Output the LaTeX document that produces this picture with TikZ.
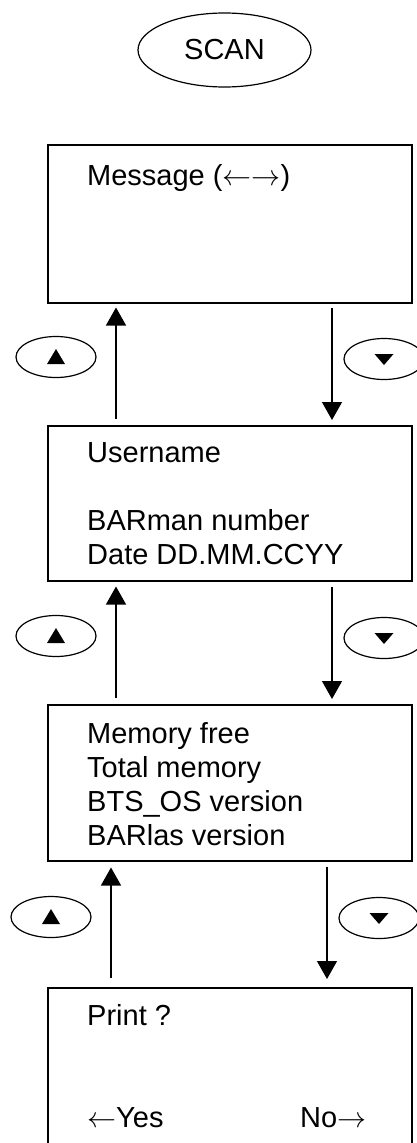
\RequirePackage{fix-cm}
\documentclass[tikz,border=0pt]{standalone}
\usepackage{fontspec}
\setmainfont{Liberation Sans}
\usetikzlibrary{arrows.meta,shapes.geometric}

\tikzset{
  screen/.style={draw, line width=1.5pt, anchor=north west, inner sep=0pt, minimum width=364pt},
  lines/.style={anchor=north west, inner sep=0pt, align=left},
  keyoval/.style={draw, ellipse, line width=1.2pt, inner sep=0pt, minimum width=80pt, minimum height=41pt},
  keyup/.style={keyoval, path picture={
    \fill ([shift={(-9,7)}]path picture bounding box.center) -- ++(18,0) -- ++(-9,-15) -- cycle;}},
  keydown/.style={keyoval, path picture={
    \fill ([shift={(-9.5,-5)}]path picture bounding box.center) -- ++(19,0) -- ++(-9.5,11) -- cycle;}},
  move/.style={line width=1.3pt, -{Triangle[length=18pt,width=20pt]}}
}

\begin{document}
\begin{tikzpicture}[x=1pt, y=-1pt, font=\fontsize{29}{34}\selectfont]

\useasboundingbox (0,0) rectangle (417,1143);

\node[keyoval, minimum width=173pt, minimum height=74pt] (scan) at (224.5,50) {SCAN};

% screens
\node[screen, minimum height=158pt] (msg) at (47,144) {};
\node[screen, minimum height=155pt] (user) at (47,425) {};
\node[screen, minimum height=156pt] (mem) at (47,704) {};
\node[screen, minimum height=200pt] (print) at (47,987) {};

\node[lines] (msgtext) at (87,164) {Message ($\leftarrow\rightarrow$)};
\node[lines] (usertext) at (87,442) {Username\\[34pt]BARman number\\Date DD.MM.CCYY};
\node[lines] (memtext) at (87,722) {Memory free\\Total memory\\BTS\_OS version\\BARlas version};
\node[lines] (printtext) at (87,1004) {Print ?\\[68pt]\makebox[213pt][l]{$\leftarrow$Yes}No$\rightarrow$};

% keys
\node[keyup] (up1) at (56,357) {};
\node[keydown] (down1) at (384,359) {};
\node[keyup] (up2) at (56,636) {};
\node[keydown] (down2) at (384,638) {};
\node[keyup] (up3) at (51,917) {};
\node[keydown] (down3) at (379,918) {};

% moves
\draw[move, shorten <=6pt, shorten >=4pt] ([xshift=69pt]user.north west) -- ([xshift=69pt]msg.south west);
\draw[move, shorten <=4pt, shorten >=5pt] ([xshift=285pt]msg.south west) -- ([xshift=285pt]user.north west);
\draw[move, shorten <=6pt, shorten >=5pt] ([xshift=69pt]mem.north west) -- ([xshift=69pt]user.south west);
\draw[move, shorten <=5pt, shorten >=5pt] ([xshift=285pt]user.south west) -- ([xshift=285pt]mem.north west);
\draw[move, shorten <=9pt, shorten >=6pt] ([xshift=64pt]print.north west) -- ([xshift=64pt]mem.south west);
\draw[move, shorten <=5pt, shorten >=8pt] ([xshift=280pt]mem.south west) -- ([xshift=280pt]print.north west);

\end{tikzpicture}
\end{document}
